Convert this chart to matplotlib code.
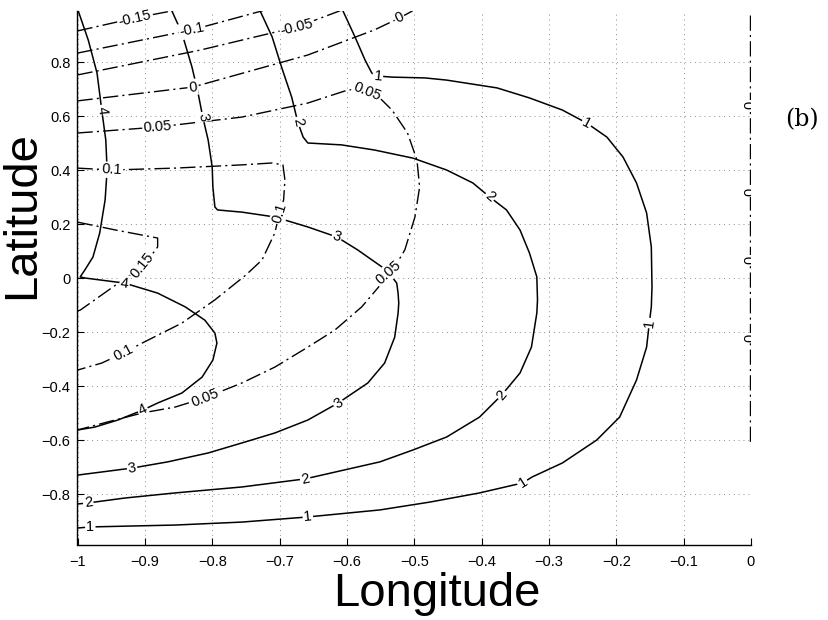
import numpy as np
import matplotlib
matplotlib.use("Agg")
import matplotlib.pyplot as plt

# ---------------- data ----------------
# solid contours (levels 4, 3, 2, 1)
c4_x = [-0.999, -0.984, -0.971, -0.964, -0.958, -0.956, -0.959, -0.967, -0.977, -0.989,
        -0.996, -0.989, -0.930, -0.881, -0.840, -0.811, -0.796, -0.793, -0.799, -0.815,
        -0.845, -0.881, -0.903, -0.940, -0.974, -1.0]
c4_y = [0.99, 0.881, 0.759, 0.622, 0.511, 0.400, 0.289, 0.167, 0.078, 0.030,
        0.004, 0.0, -0.019, -0.056, -0.107, -0.156, -0.204, -0.241, -0.304, -0.367,
        -0.426, -0.463, -0.489, -0.526, -0.552, -0.563]

c3_x = [-0.860, -0.845, -0.830, -0.821, -0.814, -0.806, -0.800, -0.799, -0.796, -0.792,
        -0.756, -0.707, -0.658, -0.615, -0.584, -0.548, -0.533, -0.526, -0.524, -0.523,
        -0.524, -0.529, -0.544, -0.569, -0.613, -0.658, -0.707, -0.756, -0.806, -0.866,
        -0.919, -1.0]
c3_y = [0.99, 0.907, 0.781, 0.685, 0.596, 0.511, 0.411, 0.337, 0.263, 0.252,
        0.244, 0.226, 0.189, 0.152, 0.104, 0.041, 0.004, -0.019, -0.056, -0.093,
        -0.130, -0.219, -0.315, -0.389, -0.463, -0.526, -0.574, -0.611, -0.648, -0.681,
        -0.704, -0.730]

c2_x = [-0.729, -0.711, -0.697, -0.682, -0.673, -0.665, -0.658, -0.608, -0.559, -0.502,
        -0.452, -0.413, -0.388, -0.363, -0.343, -0.329, -0.318, -0.317, -0.318, -0.326,
        -0.343, -0.370, -0.403, -0.452, -0.502, -0.551, -0.662, -0.756, -0.855, -0.930,
        -0.984, -1.0]
c2_y = [0.99, 0.893, 0.781, 0.670, 0.578, 0.522, 0.500, 0.493, 0.474, 0.444,
        0.400, 0.352, 0.300, 0.252, 0.178, 0.093, 0.004, -0.081, -0.130, -0.256,
        -0.352, -0.433, -0.515, -0.589, -0.637, -0.681, -0.744, -0.774, -0.796, -0.815,
        -0.833, -0.837]

c1_x = [-0.606, -0.588, -0.573, -0.563, -0.554, -0.533, -0.484, -0.452, -0.377, -0.329,
        -0.280, -0.244, -0.214, -0.190, -0.170, -0.155, -0.148, -0.147, -0.148, -0.151,
        -0.155, -0.170, -0.195, -0.229, -0.280, -0.325, -0.339, -0.403, -0.477, -0.551,
        -0.658, -0.756, -0.855, -0.981, -1.0]
c1_y = [0.99, 0.893, 0.807, 0.759, 0.748, 0.744, 0.741, 0.733, 0.704, 0.667,
        0.622, 0.574, 0.522, 0.448, 0.352, 0.241, 0.115, -0.033, -0.107, -0.167,
        -0.256, -0.378, -0.515, -0.600, -0.685, -0.737, -0.759, -0.796, -0.830, -0.859,
        -0.885, -0.904, -0.915, -0.922, -0.926]

# dash-dot contours (levels -0.15 .. 0.15)
d_m15_x = [-1.0, -0.915, -0.858]
d_m15_y = [0.915, 0.963, 0.99]
d_m10_x = [-1.0, -0.830, -0.725]
d_m10_y = [0.833, 0.919, 0.99]
d_m05_x = [-1.0, -0.818, -0.674, -0.610]
d_m05_y = [0.752, 0.844, 0.930, 0.99]
d_00_x = [-1.0, -0.829, -0.658, -0.559, -0.522, -0.502]
d_00_y = [0.656, 0.707, 0.826, 0.919, 0.963, 0.99]
d_00r_x = [-0.0015, -0.0015]
d_00r_y = [0.975, -0.62]
d_05_x = [-1.0, -0.881, -0.756, -0.658, -0.599, -0.581, -0.559, -0.548, -0.533, -0.510,
          -0.496, -0.492, -0.499, -0.514, -0.529, -0.539, -0.548, -0.578, -0.618, -0.658,
          -0.707, -0.756, -0.811, -0.855, -0.904, -0.955, -1.0]
d_05_y = [0.537, 0.559, 0.596, 0.648, 0.696, 0.700, 0.678, 0.659, 0.622, 0.537,
          0.437, 0.337, 0.226, 0.104, 0.041, 0.019, -0.019, -0.107, -0.193, -0.256,
          -0.330, -0.389, -0.444, -0.478, -0.500, -0.533, -0.563]
d_10_x = [-1.0, -0.949, -0.855, -0.756, -0.711, -0.695, -0.692, -0.694, -0.700, -0.707,
          -0.726, -0.750, -0.796, -0.845, -0.904, -0.932, -0.964, -1.0]
d_10_y = [0.407, 0.400, 0.407, 0.419, 0.426, 0.419, 0.363, 0.289, 0.241, 0.167,
          0.067, 0.011, -0.081, -0.167, -0.241, -0.278, -0.315, -0.341]
d_15_x = [-1.0, -0.944, -0.881, -0.881, -0.892, -0.904, -0.937, -0.996, -1.0]
d_15_y = [0.207, 0.178, 0.148, 0.115, 0.078, 0.041, -0.015, -0.119, -0.122]

# inline contour labels: (text, x, y, rotation or None = along the line)
solid_labels = [
    ("4", -0.964, 0.622, None), ("4", -0.930, -0.019, None), ("4", -0.903, -0.489, None),
    ("3", -0.814, 0.596, None), ("3", -0.615, 0.152, None), ("3", -0.613, -0.463, None),
    ("3", -0.919, -0.704, None),
    ("2", -0.673, 0.578, None), ("2", -0.388, 0.300, None), ("2", -0.370, -0.433, None),
    ("2", -0.662, -0.744, None), ("2", -0.984, -0.833, None),
    ("1", -0.554, 0.748, -5), ("1", -0.244, 0.574, None), ("1", -0.151, -0.167, None),
    ("1", -0.339, -0.759, None), ("1", -0.658, -0.885, None), ("1", -0.981, -0.922, None),
]
dash_labels = [
    ("-0.15", -0.915, 0.963, None), ("-0.1", -0.830, 0.919, None),
    ("-0.05", -0.674, 0.930, None),
    ("0", -0.829, 0.707, None), ("0", -0.522, 0.963, None),
    ("0.05", -0.881, 0.559, None), ("0.05", -0.570, 0.690, None),
    ("0.05", -0.539, 0.019, None), ("0.05", -0.811, -0.444, None),
    ("0.1", -0.949, 0.400, None), ("0.1", -0.700, 0.241, None), ("0.1", -0.932, -0.278, None),
    ("0.15", -0.904, 0.048, None),
]
edge_labels_y = [0.641, 0.319, 0.067, -0.222]

x_ticks = [-1, -0.9, -0.8, -0.7, -0.6, -0.5, -0.4, -0.3, -0.2, -0.1, 0]
x_ticklabels = ["\u22121", "\u22120.9", "\u22120.8", "\u22120.7", "\u22120.6", "\u22120.5",
                "\u22120.4", "\u22120.3", "\u22120.2", "\u22120.1", "0"]
y_ticks = [-0.8, -0.6, -0.4, -0.2, 0, 0.2, 0.4, 0.6, 0.8]
y_ticklabels = ["\u22120.8", "\u22120.6", "\u22120.4", "\u22120.2", "0", "0.2", "0.4", "0.6", "0.8"]

# ---------------- figure ----------------
plt.rcParams["font.family"] = ["Liberation Sans", "DejaVu Sans"]
W, H = 829, 620
fig = plt.figure(figsize=(W / 100, H / 100), dpi=100)
ax_l, ax_r, ax_t, ax_b = 77.5, 751.0, 10.7, 545.3
ax = fig.add_axes([ax_l / W, 1 - ax_b / H, (ax_r - ax_l) / W, (ax_b - ax_t) / H])
ax.set_xlim(-1, 0)
ax.set_ylim(-0.99, 0.99)

for s in ["top", "right"]:
    ax.spines[s].set_visible(False)
for s in ["left", "bottom"]:
    ax.spines[s].set_linewidth(1.0)

ax.set_xticks(x_ticks)
ax.set_xticklabels(x_ticklabels)
ax.set_yticks(y_ticks)
ax.set_yticklabels(y_ticklabels)
ax.tick_params(direction="in", length=5, width=0.8, labelsize=10.5, pad=5)
ax.tick_params(axis="x", pad=7)
ax.grid(True, color="0.55", linestyle=(0, (1, 4)), linewidth=0.7)
ax.set_axisbelow(True)

solid = [(c4_x, c4_y), (c3_x, c3_y), (c2_x, c2_y), (c1_x, c1_y)]
dashed = [(d_m15_x, d_m15_y), (d_m10_x, d_m10_y), (d_m05_x, d_m05_y), (d_00_x, d_00_y),
          (d_00r_x, d_00r_y), (d_05_x, d_05_y), (d_10_x, d_10_y), (d_15_x, d_15_y)]
dashdot = (0, (11, 3, 1.5, 3))

for xs, ys in solid:
    ax.plot(xs, ys, color="black", lw=1.1, zorder=2, solid_joinstyle="round")
for xs, ys in dashed:
    ax.plot(xs, ys, color="black", lw=1.0, linestyle=dashdot, zorder=2)


def nearest_angle(x0, y0, curves):
    p0 = ax.transData.transform((x0, y0))
    best = None
    for xs, ys in curves:
        pts = ax.transData.transform(np.column_stack([xs, ys]))
        for i in range(len(pts) - 1):
            a, b = pts[i], pts[i + 1]
            ab = b - a
            L2 = ab @ ab
            if L2 == 0:
                continue
            t = np.clip((p0 - a) @ ab / L2, 0, 1)
            d = np.hypot(*(a + t * ab - p0))
            if best is None or d < best[0]:
                best = (d, ab)
    ang = np.degrees(np.arctan2(best[1][1], best[1][0]))
    while ang > 90:
        ang -= 180
    while ang <= -90:
        ang += 180
    return ang


box = dict(boxstyle="square,pad=0.08", fc="white", ec="none")
for labels, curves in [(solid_labels, solid), (dash_labels, dashed)]:
    for txt, x, y, rot in labels:
        ang = nearest_angle(x, y, curves) if rot is None else rot
        ax.text(x, y, txt, rotation=ang, rotation_mode="anchor", ha="center", va="center",
                fontsize=10.5, bbox=box, zorder=3)
for y in edge_labels_y:
    ax.text(-0.0015, y, "0", rotation=90, rotation_mode="anchor", ha="center", va="center",
            fontsize=10.5, bbox=box, zorder=3, clip_on=True)

fig.text(22 / W, 1 - 215 / H, "Latitude", rotation=90, fontsize=34, ha="center", va="center")
fig.text(437 / W, 1 - 594 / H, "Longitude", fontsize=34, ha="center", va="center")
fig.text(802 / W, 1 - 120 / H, "(b)", fontsize=17, ha="center", va="center",
         family=["DejaVu Serif"])

fig.savefig("out.png", dpi=100)
